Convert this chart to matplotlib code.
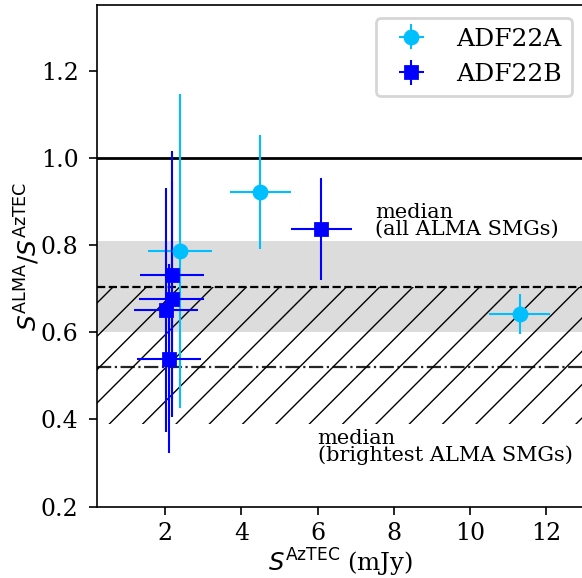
import numpy as np
import matplotlib
matplotlib.use("Agg")
import matplotlib.pyplot as plt

plt.rcParams["font.family"] = "serif"
plt.rcParams["font.serif"] = ["DejaVu Serif"]
plt.rcParams["mathtext.fontset"] = "dejavusans"
plt.rcParams["font.size"] = 9
plt.rcParams["hatch.linewidth"] = 0.5

# ADF22A
a_x = [2.39, 4.50, 11.31]
a_y = [0.787, 0.922, 0.642]
a_xerr = [0.85, 0.80, 0.80]
a_yerr = [0.36, 0.13, 0.046]

# ADF22B
b_x = [6.10, 2.18, 2.17, 2.02, 2.10]
b_y = [0.836, 0.731, 0.676, 0.651, 0.539]
b_xerr = [0.80, 0.85, 0.85, 0.85, 0.85]
b_yerr = [0.117, 0.285, 0.27, 0.28, 0.217]

# medians
med_all = 0.704
med_all_lo, med_all_hi = 0.60, 0.81
med_bright = 0.52
bright_lo = 0.39

fig = plt.figure(figsize=(2.91, 2.89), dpi=200)
ax = fig.add_axes([0.166, 0.1234, 1.004 - 0.166, 0.991 - 0.1234])

ax.axhspan(med_all_lo, med_all_hi, color="#dcdcdc", lw=0, zorder=0.5)
ax.axhspan(bright_lo, med_all, facecolor="none", edgecolor="k", hatch="//", lw=0, zorder=1)
ax.axhline(1.0, color="k", lw=1.0, zorder=2)
ax.axhline(med_all, color="k", ls="--", lw=0.8, zorder=2)
ax.axhline(med_bright, color="k", ls="-.", lw=0.8, zorder=2, alpha=0.85)

ax.errorbar(a_x, a_y, xerr=a_xerr, yerr=a_yerr, fmt="o", color="deepskyblue",
            ms=4.7, elinewidth=0.75, capsize=0, label="ADF22A", zorder=3)
ax.errorbar(b_x, b_y, xerr=b_xerr, yerr=b_yerr, fmt="s", color="blue",
            ms=4.3, elinewidth=0.75, capsize=0, label="ADF22B", zorder=3)

ax.text(7.5, 0.815, "median\n(all ALMA SMGs)", fontsize=7.5, linespacing=0.85, va="bottom")
ax.text(6.0, 0.295, "median\n(brightest ALMA SMGs)", fontsize=7.5, linespacing=0.85, va="bottom")

ax.set_xlim(0.2, 13)
ax.set_ylim(0.2, 1.35)
ax.set_xticks([2, 4, 6, 8, 10, 12])
ax.set_yticks([0.2, 0.4, 0.6, 0.8, 1.0, 1.2])
ax.tick_params(labelsize=8.5, width=0.6, length=3)
ax.tick_params(axis="x", pad=2.6)
ax.set_xlabel(r"$S^{\rm AzTEC}$ (mJy)", fontsize=8.8, labelpad=0.5)
ax.set_ylabel(r"$S^{\rm ALMA}/S^{\rm AzTEC}$", fontsize=9, labelpad=-0.5)
for s in ax.spines.values():
    s.set_linewidth(0.6)

ax.legend(loc="upper right", fontsize=9)

fig.savefig("out.png", dpi=200)
